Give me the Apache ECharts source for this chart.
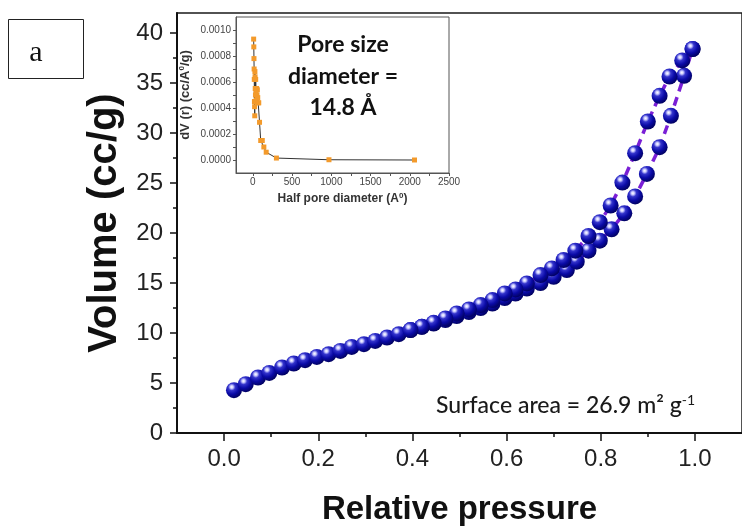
<!DOCTYPE html>
<html>
<head>
<meta charset="utf-8">
<script src="https://cdn.jsdelivr.net/npm/echarts@6/dist/echarts.min.js"></script>
<style>
html,body{margin:0;padding:0;background:#fff;}
#chart{width:742px;height:531px;}
</style>
</head>
<body>
<div id="chart"></div>
<script>
// ---- Main isotherm data (relative pressure, volume cc/g) ----
const adsP = [0.021,0.046,0.072,0.096,0.123,0.148,0.172,0.197,0.222,0.247,0.271,0.297,0.321,0.346,0.371,0.396,0.420,0.445,0.470,0.494,0.520,0.545,0.570,0.596,0.619,0.643,0.672,0.700,0.728,0.749,0.774,0.798,0.823,0.850,0.873,0.898,0.925,0.949,0.977,0.995];
const adsV = [4.28,4.88,5.55,6.01,6.55,6.95,7.28,7.61,7.88,8.21,8.61,8.88,9.21,9.55,9.88,10.29,10.62,10.95,11.30,11.70,12.10,12.50,12.95,13.50,13.95,14.45,15.00,15.62,16.29,17.13,18.23,19.23,20.37,21.97,23.66,25.91,28.58,31.72,35.72,38.40];
const desP = [0.995,0.973,0.946,0.925,0.900,0.873,0.846,0.821,0.798,0.774,0.746,0.721,0.696,0.672,0.643,0.619,0.596,0.570,0.545,0.520,0.494,0.470,0.445,0.420,0.396];
const desV = [38.40,37.26,35.65,33.72,31.15,27.98,25.04,22.75,21.08,19.70,18.23,17.30,16.46,15.79,14.96,14.36,13.96,13.29,12.79,12.36,11.96,11.46,11.02,10.62,10.29];
const xMajorTicks = [0,0.2,0.4,0.6,0.8,1.0];
const xMinorTicks = [0.1,0.3,0.5,0.7,0.9];
const yMajorTicks = [0,5,10,15,20,25,30,35,40];
const yMinorTicks = [2.5,7.5,12.5,17.5,22.5,27.5,32.5,37.5];

// ---- Inset: pore size distribution ----
const insetX = [10,12,14,16,18,20,22,24,26,28,30,33,36,40,44,48,52,57,62,68,75,85,100,120,140,170,300,970,2060];
const insetY = [0.00093,0.00087,0.00078,0.00070,0.00062,0.00045,0.00041,0.00034,0.00068,0.00064,0.00055,0.00050,0.00062,0.00052,0.00046,0.00055,0.00050,0.00054,0.00048,0.00044,0.00044,0.00029,0.00015,0.00015,0.00010,0.00006,0.000015,0.000002,0.0];
const insetXTicks = [0,500,1000,1500,2000,2500];
const insetXAllTicks = [0,250,500,750,1000,1250,1500,1750,2000,2250,2500];
const insetYTicks = [0,0.0002,0.0004,0.0006,0.0008,0.0010];
const insetYAllTicks = [0,0.0001,0.0002,0.0003,0.0004,0.0005,0.0006,0.0007,0.0008,0.0009,0.0010];

const sphere = new echarts.graphic.RadialGradient(0.36, 0.3, 0.75, [
  {offset:0, color:'#ffffff'},
  {offset:0.13, color:'#c9c9ff'},
  {offset:0.3, color:'#3434cc'},
  {offset:0.6, color:'#0a0aa6'},
  {offset:1, color:'#000058'}
]);

const chart = echarts.init(document.getElementById('chart'), null, {renderer:'canvas'});
const AX = 'Liberation Sans, Arial, sans-serif';
const supStyle = {fontFamily:AX, fontWeight:'bold', fontSize:8, color:'#333', verticalAlign:'top', padding:[0,0,6,0]};
const option = {
  animation:false,
  backgroundColor:'#fff',
  grid:[
    {left:177, top:13, right:-4, bottom:98, show:true, borderColor:'#1a1a1a', borderWidth:1.5, backgroundColor:'transparent'},
    {left:236, top:17, width:213, height:156, show:true, borderColor:'#555', borderWidth:1, backgroundColor:'#fff', z:5}
  ],
  xAxis:[
    {gridIndex:0, type:'value', position:'bottom', min:-0.1, max:1.1,
     name:'Relative pressure', nameLocation:'middle', nameGap:60,
     nameTextStyle:{fontFamily:AX, fontWeight:'bold', fontSize:33, color:'#111'},
     axisLine:{onZero:false, lineStyle:{color:'#111', width:2}},
     axisTick:{show:true, customValues:xMajorTicks, length:8, lineStyle:{color:'#111', width:1.5}},
     axisLabel:{customValues:xMajorTicks, formatter:v=>v.toFixed(1), fontFamily:AX, fontSize:24, color:'#222', margin:14},
     splitLine:{show:false}},
    {gridIndex:0, type:'value', position:'bottom', min:-0.1, max:1.1,
     axisLine:{show:false, onZero:false},
     axisTick:{show:true, customValues:xMinorTicks, length:4, lineStyle:{color:'#111', width:1.5}},
     axisLabel:{show:false}, splitLine:{show:false}},
    {gridIndex:1, type:'value', position:'bottom', min:-215, max:2500,
     name:'Half pore diameter (A{sup|0})', nameLocation:'middle', nameGap:19,
     nameTextStyle:{fontFamily:AX, fontWeight:'bold', fontSize:12, color:'#333', rich:{sup:supStyle}},
     axisLine:{onZero:false, lineStyle:{color:'#555', width:1}},
     axisTick:{show:true, customValues:insetXAllTicks, length:3, lineStyle:{color:'#555'}},
     axisLabel:{customValues:insetXTicks, formatter:v=>String(Math.round(v)), fontFamily:AX, fontSize:10, color:'#444', margin:4},
     splitLine:{show:false}, z:6}
  ],
  yAxis:[
    {gridIndex:0, type:'value', position:'left', min:0, max:42,
     name:'Volume (cc/g)', nameLocation:'middle', nameGap:50,
     nameTextStyle:{fontFamily:AX, fontWeight:'bold', fontSize:40, color:'#111'},
     axisLine:{onZero:false, lineStyle:{color:'#111', width:2}},
     axisTick:{show:true, customValues:yMajorTicks, length:7, lineStyle:{color:'#111', width:1.5}},
     axisLabel:{customValues:yMajorTicks, fontFamily:AX, fontSize:24, color:'#222', margin:14},
     splitLine:{show:false}},
    {gridIndex:0, type:'value', position:'left', min:0, max:42,
     axisLine:{show:false, onZero:false},
     axisTick:{show:true, customValues:yMinorTicks, length:4, lineStyle:{color:'#111', width:1.5}},
     axisLabel:{show:false}, splitLine:{show:false}},
    {gridIndex:1, type:'value', position:'left', min:-0.0001, max:0.0011,
     name:'dV (r) (cc/A{sup|0}/g)', nameLocation:'middle', nameGap:44,
     nameTextStyle:{fontFamily:AX, fontWeight:'bold', fontSize:13, color:'#333', rich:{sup:supStyle}},
     axisLine:{onZero:false, lineStyle:{color:'#555', width:1}},
     axisTick:{show:true, customValues:insetYAllTicks, length:3, lineStyle:{color:'#555'}},
     axisLabel:{customValues:insetYTicks, formatter:v=>v.toFixed(4), fontFamily:AX, fontSize:10, color:'#444', margin:5},
     splitLine:{show:false}, z:6}
  ],
  series:[
    {type:'line', xAxisIndex:0, yAxisIndex:0, data:adsP.map((p,i)=>[p,adsV[i]]),
     symbol:'circle', symbolSize:16, showAllSymbol:true,
     lineStyle:{color:'#7a1fd6', width:3.5, type:[9,6]},
     itemStyle:{color:sphere, borderWidth:0}, z:3},
    {type:'line', xAxisIndex:0, yAxisIndex:0, data:desP.map((p,i)=>[p,desV[i]]),
     symbol:'circle', symbolSize:16, showAllSymbol:true,
     lineStyle:{color:'#7a1fd6', width:3.5, type:[9,6]},
     itemStyle:{color:sphere, borderWidth:0}, z:4},
    {type:'line', xAxisIndex:2, yAxisIndex:2, data:insetX.map((x,i)=>[x,insetY[i]]),
     symbol:'rect', symbolSize:5, showAllSymbol:true,
     lineStyle:{color:'#333', width:1},
     itemStyle:{color:'#f39a2b', borderWidth:0}, z:7}
  ],
  graphic:[
    {type:'rect', shape:{x:8.5, y:19.5, width:75, height:59}, style:{fill:'#fff', stroke:'#222', lineWidth:1}, z:10},
    {type:'text', x:36, y:53, style:{text:'a', font:'30px "Liberation Serif", "Times New Roman", serif', fill:'#111', align:'center', verticalAlign:'middle'}, z:11},
    {type:'text', x:343, y:45, style:{text:'Pore size', font:'bold 23px Lato, "Open Sans", sans-serif', fill:'#111', align:'center', verticalAlign:'middle'}, z:20},
    {type:'text', x:343, y:77, style:{text:'diameter =', font:'bold 23px Lato, "Open Sans", sans-serif', fill:'#111', align:'center', verticalAlign:'middle'}, z:20},
    {type:'text', x:343, y:108, style:{text:'14.8 Å', font:'bold 23px Lato, "Open Sans", sans-serif', fill:'#111', align:'center', verticalAlign:'middle'}, z:20},
    {type:'text', x:436, y:406, style:{rich:{n:{fontFamily:'Lato, "Open Sans", sans-serif', fontSize:23, fill:'#1a1a1a', fontWeight:500}, s:{fontFamily:'Lato, sans-serif', fontSize:14, fill:'#1a1a1a', verticalAlign:'top', padding:[0,0,11,0]}}, text:'{n|Surface area = 26.9 m² g}{s|-1}', verticalAlign:'middle'}, z:20}
  ]
};
chart.setOption(option);
</script>
</body>
</html>
